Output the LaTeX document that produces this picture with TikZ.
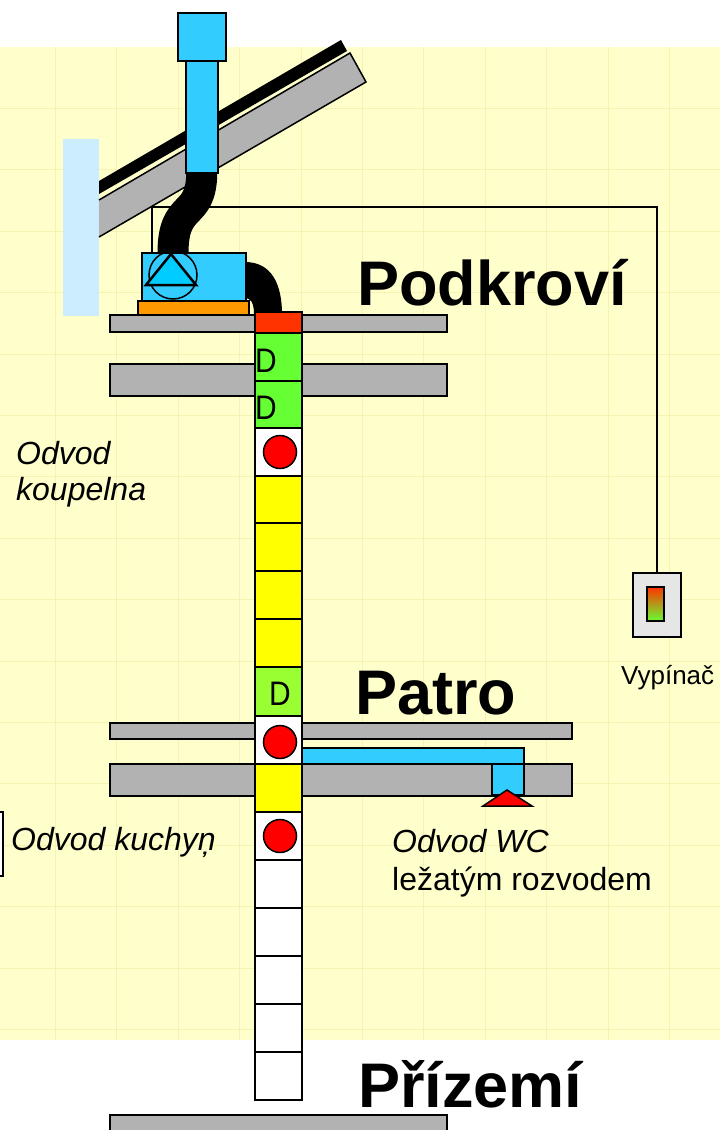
\documentclass[tikz,border=0pt]{standalone}
\usepackage{fontspec}
\setmainfont{Liberation Sans}
\definecolor{paper}{HTML}{FFFFCC}
\definecolor{gridline}{HTML}{F6F2B2}
\definecolor{wallblue}{HTML}{CCECFF}
\definecolor{ductcyan}{HTML}{33CCFF}
\definecolor{fancyan}{HTML}{00CCFF}
\definecolor{slabgray}{HTML}{B2B2B2}
\definecolor{topred}{HTML}{FF3300}
\definecolor{dgreen}{HTML}{66FF33}
\definecolor{dgreenb}{HTML}{99FF33}
\definecolor{dyellow}{HTML}{FFFF00}
\definecolor{baseorange}{HTML}{FF9900}
\definecolor{switchgray}{HTML}{E6E6E6}
\begin{document}
\begin{tikzpicture}[x=1pt,y=-1pt,line join=miter,
  outl/.style={draw=black,line width=1.5pt},
  slab/.style={outl,fill=slabgray},
  seg/.style={outl},
  cyanpart/.style={outl,fill=ductcyan},
  wire/.style={draw=black,line width=1.2pt},
  hose/.style={draw=black,line width=31pt},
  floorlabel/.style={inner sep=0pt,anchor=base west,font=\fontsize{63}{68}\selectfont\bfseries},
  roomlabel/.style={inner sep=0pt,anchor=base west,font=\fontsize{32}{37}\selectfont\itshape},
  plainlabel/.style={inner sep=0pt,anchor=base west,font=\fontsize{32}{37}\selectfont},
  dmark/.style={inner sep=0pt,anchor=base west,xscale=0.88,font=\fontsize{34}{40}\selectfont},
  valve/.style={outl,fill=red}]
\useasboundingbox (0,0) rectangle (720,1130);
\clip (0,0) rectangle (720,1130);

% paper and faint grid
\fill[white] (0,0) rectangle (720,1130);
\fill[paper] (0,47) rectangle (720,1040);
\foreach \k in {0,...,10}
  \draw[gridline,line width=1pt] ({55.5+61.4*\k},47) -- ({55.5+61.4*\k},1040);
\foreach \k in {1,...,16}
  \draw[gridline,line width=1pt] (0,{47+61.4*\k}) -- (720,{47+61.4*\k});

% gable wall
\fill[wallblue] (63,139) rectangle (99,316);

% roof: covering and rafter
\fill[black] (99,181) -- (341,40) -- (347,51) -- (99,194) -- cycle;
\draw[outl,fill=slabgray] (99,200) -- (350,53) -- (366,82) -- (99,237);

% switch
\node[outl,fill=switchgray,minimum width=48pt,minimum height=64pt,inner sep=0pt,anchor=north west] (switch) at (632,572) {};
\shade[top color=topred,bottom color=dgreen] (647,587) rectangle (664,621);
\draw[outl] (647,587) rectangle (664,621);
\node[inner sep=0pt,anchor=base west,font=\fontsize{26}{31}\selectfont] (vyp) at (621,684) {Vypínač};

% fan unit
\node[cyanpart,minimum width=104pt,minimum height=48pt,inner sep=0pt,anchor=north west] (fan) at (141,252) {};
\coordinate (wc) at (152,207);
\draw[wire] (switch.north -| 657,0) |- (wc) -- (wc |- fan.north);

% roof outlet
\node[cyanpart,minimum width=32pt,minimum height=112pt,inner sep=0pt,anchor=north west] (pipe) at (185,60) {};
\node[cyanpart,minimum width=48pt,minimum height=48pt,inner sep=0pt,anchor=north west] (cap) at (177,12) {};

% flexible hoses
\draw[hose] (pipe.south) .. controls (201,220) and (173,200) .. (173,253);
\fill[black] (245,262) .. controls (272,262) and (282,285) .. (282,314)
  -- (254,314) .. controls (254,302) and (250,298) .. (245,298) -- cycle;

% fan body drawn over the hose ends
\node[cyanpart,minimum width=104pt,minimum height=48pt,inner sep=0pt,anchor=north west] (fanbody) at (141,252) {};
\draw[line width=1.5pt] (173,275) circle (24);
\draw[line width=2.5pt,fill=fancyan] (146,285) -- (196,285) -- (171,254) -- cycle;
\node[outl,fill=baseorange,minimum width=111pt,minimum height=15pt,inner sep=0pt,anchor=north west] (base) at (137,300) {};

% floor slabs
\draw[slab] (110,315) rectangle (447,332);
\draw[slab] (110,364) rectangle (447,396);
\draw[slab] (110,723) rectangle (572,739);
\draw[slab] (110,764) rectangle (572,796);
\draw[slab] (110,1115) rectangle (447,1140);

% WC branch duct
\draw[cyanpart] (300,748) rectangle (524,764);
\draw[cyanpart] (492,764) rectangle (524,795);
\draw[outl,fill=red] (483,806) -- (507,790) -- (532,806) -- cycle;

% vertical duct
\draw[seg,fill=topred] (255,312) rectangle (302,333);
\draw[seg,fill=dgreen] (255,333) rectangle (302,381);
\draw[seg,fill=dgreen] (255,381) rectangle (302,428);
\draw[seg,fill=white] (255,428) rectangle (302,476);
\foreach \t/\b in {476/523,523/571,571/619,619/667,764/812}
  \draw[seg,fill=dyellow] (255,\t) rectangle (302,\b);
\draw[seg,fill=dgreenb] (255,667) rectangle (302,716);
\draw[seg,fill=white] (255,716) rectangle (302,764);
\draw[seg,fill=white] (255,812) rectangle (302,860);
\foreach \t in {860,908,956,1004,1052}
  \draw[seg,fill=white] (255,\t) rectangle (302,{\t+48});
\draw[valve] (280,452) circle (16.5);
\draw[valve] (280,742) circle (16.5);
\draw[valve] (280,836) circle (16.5);
\node[dmark] (d1) at (255,372) {D};
\node[dmark] (d2) at (255,419) {D};
\node[dmark] (d3) at (269,705) {D};

% cut-off box at the left edge
\draw[outl,fill=white] (-5,812) rectangle (3,876);

% labels
\node[floorlabel] (podkrovi) at (357,305) {Podkroví};
\node[floorlabel] (patro) at (355,714) {Patro};
\node[floorlabel] (prizemi) at (358,1107) {Přízemí};
\node[roomlabel] (koup1) at (16,464) {Odvod};
\node[roomlabel] (koup2) at (16,500) {koupelna};
\node[roomlabel] (kuch) at (11,850) {Odvod kuchyņ};
\node[roomlabel] (wc1) at (392,852) {Odvod WC};
\node[plainlabel] (wc2) at (392,890) {ležatým rozvodem};
\end{tikzpicture}
\end{document}
